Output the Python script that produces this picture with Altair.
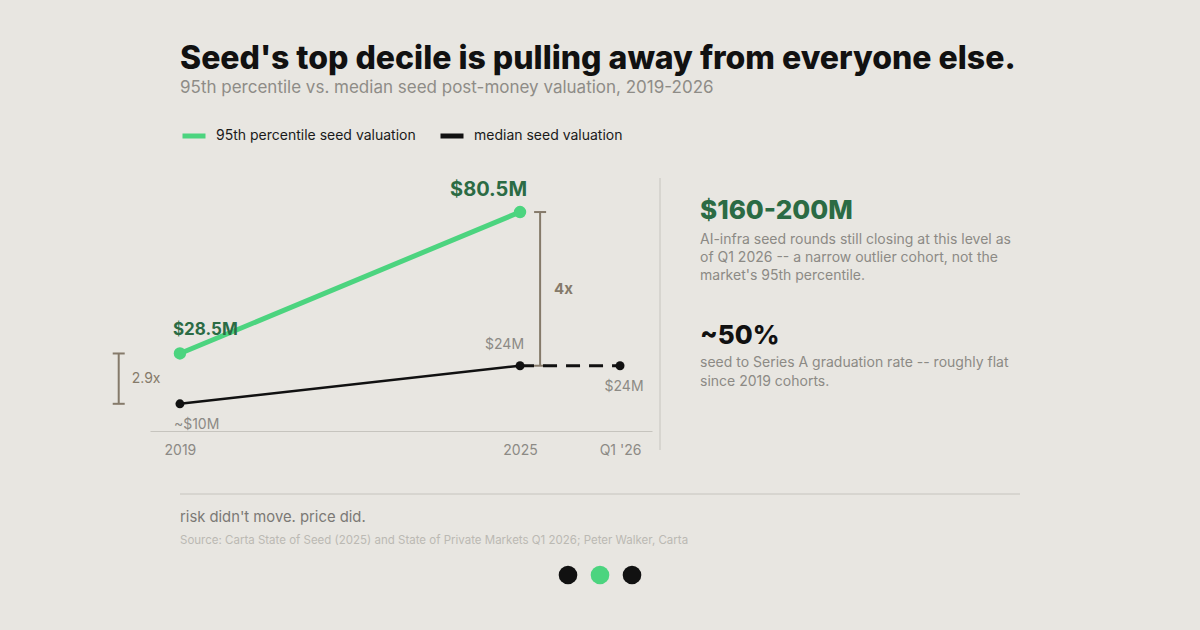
import json
import altair as alt
import pandas as pd

# ---- data -------------------------------------------------------------
periods = ["2019", "2025", "Q1 '26"]
period_slot = [0.0, 1.0, 1.294]          # horizontal slot of each period

p95_values = [28.5, 80.5]                 # $M, 2019 and 2025
median_values = [10.0, 24.0, 24.0]        # $M, 2019, 2025, Q1 '26
median_approx = [True, False, False]

series_names = ["95th percentile seed valuation", "median seed valuation"]

ratio_labels = ["2.9x", "4x"]
ratio_slot = [-0.18, 1.059]

title_text = "Seed's top decile is pulling away from everyone else."
subtitle_text = "95th percentile vs. median seed post-money valuation, 2019-2026"

stat_headlines = ["$160-200M", "~50%"]
stat_bodies = [
    ["AI-infra seed rounds still closing at this level as",
     "of Q1 2026 -- a narrow outlier cohort, not the",
     "market's 95th percentile."],
    ["seed to Series A graduation rate -- roughly flat",
     "since 2019 cohorts."],
]
takeaway_text = "risk didn't move. price did."
source_text = ("Source: Carta State of Seed (2025) and State of Private Markets "
               "Q1 2026; Peter Walker, Carta")

# ---- styling ----------------------------------------------------------
BG = "#e8e6e1"
GREEN = "#4cd47f"
DARK_GREEN = "#2b6b44"
INK = "#111111"
GREY = "#8c8a85"
BRACKET = "#857a6a"
RULE = "#c6c4be"
FONT = "Inter"


def money(v, approx=False):
    s = f"${v:g}M"
    return "~" + s if approx else s


p95 = pd.DataFrame({
    "slot": period_slot[:2],
    "value": p95_values,
    "series": series_names[0],
    "label": [money(v) for v in p95_values],
})
med = pd.DataFrame({
    "slot": period_slot,
    "value": median_values,
    "series": series_names[1],
    "label": [money(v, a) for v, a in zip(median_values, median_approx)],
})
brackets = pd.DataFrame({
    "slot": ratio_slot,
    "top": [p95_values[0], p95_values[1]],
    "bottom": [median_values[0], median_values[1]],
    "ratio": ratio_labels,
})
brackets["mid"] = (brackets["top"] + brackets["bottom"]) / 2

# ---- scales / axes ----------------------------------------------------
label_expr = " : ".join(
    f"datum.value == {s} ? {json.dumps(p)}" for s, p in zip(period_slot[:-1], periods[:-1])
) + f" : {json.dumps(periods[-1])}"

x_axis = alt.Axis(
    values=period_slot, labelExpr=label_expr, title=None, ticks=False, grid=False,
    domainColor=RULE, domainWidth=1, labelColor=GREY, labelFontSize=14,
    labelFont=FONT, labelPadding=12, labelFlush=False, labelOverlap=False,
)
x_scale = alt.Scale(domain=[-0.088, 1.388], nice=False, zero=False)
y_scale = alt.Scale(domain=[0, 100], nice=False)

X = alt.X("slot:Q", scale=x_scale, axis=x_axis)
Y = alt.Y("value:Q", scale=y_scale, axis=None)

color = alt.Color(
    "series:N",
    scale=alt.Scale(domain=series_names, range=[GREEN, INK]),
    legend=alt.Legend(
        orient="none", legendX=30, legendY=-37, direction="horizontal", title=None,
        symbolType="stroke", symbolStrokeWidth=5, symbolSize=529,
        labelFont=FONT, labelFontSize=14, labelColor="#1a1a1a", labelOffset=8,
        labelLimit=0, columnPadding=14,
    ),
)

# ---- series -----------------------------------------------------------
p95_line = alt.Chart(p95).mark_line(strokeWidth=5, strokeCap="round").encode(
    x=X, y=Y, color=color)
med_line = alt.Chart(med.iloc[:2]).mark_line(strokeWidth=2.5).encode(
    x=X, y=Y, color=color)
med_dash = alt.Chart(med.iloc[1:]).mark_line(strokeWidth=3, strokeDash=[14, 9]).encode(
    x=X, y=Y, color=color)
p95_pts = alt.Chart(p95).mark_circle(size=154, color=GREEN, opacity=1).encode(x=X, y=Y)
med_pts = alt.Chart(med).mark_circle(size=80, color=INK, opacity=1).encode(x=X, y=Y)


def value_label(df, align, dx, dy, size, weight, col):
    return alt.Chart(df).mark_text(
        align=align, baseline="middle", dx=dx, dy=dy, fontSize=size,
        fontWeight=weight, color=col, font=FONT,
    ).encode(x=X, y=Y, text="label:N")


labels = [
    value_label(p95.iloc[[0]], "left", -7, -23, 17, 700, DARK_GREEN),
    value_label(p95.iloc[[1]], "right", 7, -22, 20, 700, DARK_GREEN),
    value_label(med.iloc[[0]], "left", -6, 21, 14, 400, GREY),
    value_label(med.iloc[[1]], "right", 4, -21, 14, 400, GREY),
    value_label(med.iloc[[2]], "center", 4, 21, 14, 400, GREY),
]

# ---- ratio brackets ---------------------------------------------------
BX = alt.X("slot:Q", scale=x_scale, axis=x_axis)
bracket_bar = alt.Chart(brackets).mark_rule(color=BRACKET, strokeWidth=2).encode(
    x=BX, y=alt.Y("top:Q", scale=y_scale, axis=None), y2="bottom:Q")
bracket_cap_top = alt.Chart(brackets).mark_tick(
    orient="horizontal", size=12, thickness=2, color=BRACKET, opacity=1).encode(
    x=BX, y=alt.Y("top:Q", scale=y_scale, axis=None))
bracket_cap_bot = alt.Chart(brackets).mark_tick(
    orient="horizontal", size=12, thickness=2, color=BRACKET, opacity=1).encode(
    x=BX, y=alt.Y("bottom:Q", scale=y_scale, axis=None))
ratio_small = alt.Chart(brackets.iloc[[0]]).mark_text(
    align="left", baseline="middle", dx=13, fontSize=14, color=BRACKET, font=FONT).encode(
    x=BX, y=alt.Y("mid:Q", scale=y_scale, axis=None), text="ratio:N")
ratio_big = alt.Chart(brackets.iloc[[1]]).mark_text(
    align="left", baseline="middle", dx=14, fontSize=15, fontWeight=700,
    color=BRACKET, font=FONT).encode(
    x=BX, y=alt.Y("mid:Q", scale=y_scale, axis=None), text="ratio:N")

# ---- page text and decoration (pixel placement around the plot) -------
one = pd.DataFrame({"k": [0]})


def page_text(text, x, y, size, col, weight=400, baseline="middle", line_height=None):
    kw = dict(align="left", baseline=baseline, fontSize=size, color=col,
              fontWeight=weight, font=FONT)
    if line_height is not None:
        kw["lineHeight"] = line_height
    return alt.Chart(one).mark_text(**kw).encode(
        x=alt.value(x), y=alt.value(y), text=alt.value(text))


page = [
    page_text(title_text, 30, -100, 32, INK, 800),
    page_text(subtitle_text, 30, -71, 17, "#8e8c87"),
    page_text(stat_headlines[0], 550, 52, 26, DARK_GREEN, 800),
    page_text(stat_bodies[0], 550, 74, 14, GREY, 400, "top", 18),
    page_text(stat_headlines[1], 550, 177, 26, INK, 800),
    page_text(stat_bodies[1], 550, 197, 14, GREY, 400, "top", 19),
    page_text(takeaway_text, 30, 359, 14.8, "#7b7975"),
    page_text(source_text, 30, 382, 11.5, "#bbb9b3"),
]

divider = alt.Chart(one).mark_rule(color=RULE, strokeWidth=1).encode(
    x=alt.value(510), y=alt.value(19), y2=alt.value(291))
footer_rule = alt.Chart(one).mark_rule(color=RULE, strokeWidth=1).encode(
    x=alt.value(30), x2=alt.value(870), y=alt.value(335))

pager_colors = [INK, GREEN, INK]
pager = [
    alt.Chart(one).mark_circle(size=346, color=c, opacity=1).encode(
        x=alt.value(418 + 32 * i), y=alt.value(416))
    for i, c in enumerate(pager_colors)
]

chart = alt.layer(
    divider, footer_rule,
    bracket_bar, bracket_cap_top, bracket_cap_bot, ratio_small, ratio_big,
    med_line, med_dash, p95_line, med_pts, p95_pts,
    *labels, *page, *pager,
).properties(
    width=502, height=272,
    padding={"left": 150, "top": 159, "right": 548, "bottom": 199},
    autosize=alt.AutoSizeParams(type="none"),
    background=BG,
).configure_view(stroke=None)

chart.save("out.html", embed_options={"renderer": "svg", "actions": False})
